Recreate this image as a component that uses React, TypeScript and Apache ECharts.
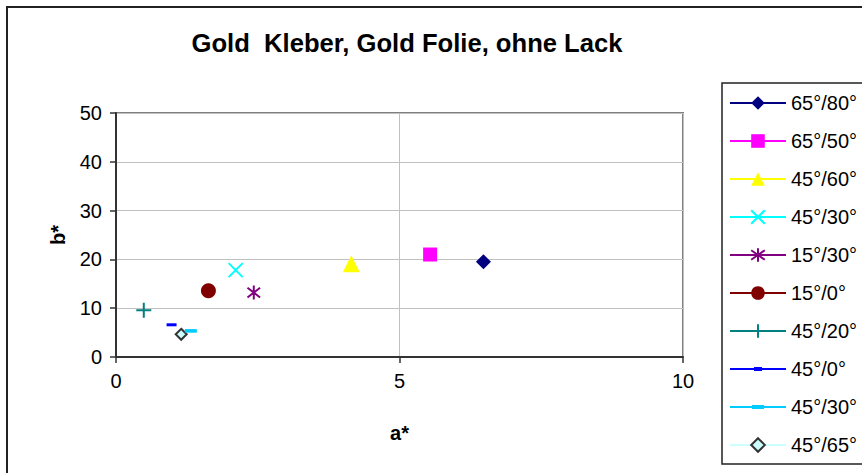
import React, { useEffect, useRef } from "react";
import * as echarts from "echarts";

const titleText = "Gold  Kleber, Gold Folie, ohne Lack";
const seriesNames = ["65°/80°", "65°/50°", "45°/60°", "45°/30°", "15°/30°", "15°/0°", "45°/20°", "45°/0°", "45°/30° ", "45°/65°"];
const aValues = [6.48, 5.54, 4.15, 2.11, 2.43, 1.63, 0.49, 0.98, 1.32, 1.15];
const bValues = [19.5, 21.0, 19.1, 17.8, 13.2, 13.6, 9.6, 6.6, 5.35, 4.65];
const colors = ["#000080", "#FF00FF", "#FFFF00", "#00FFFF", "#800080", "#800000", "#008080", "#0000FF", "#00CCFF", "#CCFFFF"];
const xTicks = [0, 10, 5];
const yTicks = [0, 50, 10];

const X_PATH = "path://M0,0L10,10M10,0L0,10";
const PLUS_PATH = "path://M5,0L5,10M0,5L10,5";
const STAR_PATH = "path://M5,0L5,10M0.5,1.5L9.5,8.5M9.5,1.5L0.5,8.5";
const DASH_PATH = "path://M0,0L10,0L10,3L0,3Z";
const LEGEND_DASH_SMALL = "path://M0,1L56,1L56,3L0,3Z M24,0L32,0L32,4L24,4Z";
const LEGEND_DASH_WIDE = "path://M0,1L56,1L56,3L0,3Z M22,0L34,0L34,4L22,4Z";

const symbols: any[] = ["diamond", "rect", "triangle", X_PATH, STAR_PATH, "circle", PLUS_PATH, DASH_PATH, DASH_PATH, "diamond"];
const symbolSizes: any[] = [15, 14, 17, 14, 14, 15, 15, 10, 12, 11];

export default function App() {
  const ref = useRef<HTMLDivElement>(null);
  useEffect(() => {
    if (!ref.current) return;
    const chart = echarts.init(ref.current, undefined, { renderer: "svg" });
    const series = seriesNames.map((name, i) => {
      const stroked = i === 3 || i === 4 || i === 6;
      const isLast = i === 9;
      return {
        name,
        type: "line",
        data: [[aValues[i], bValues[i]]],
        symbol: symbols[i],
        symbolSize: symbolSizes[i],
        symbolKeepAspect: true,
        showSymbol: true,
        lineStyle: { color: colors[i], width: 2 },
        itemStyle: {
          color: colors[i],
          borderColor: isLast ? "#333333" : colors[i],
          borderWidth: isLast ? 2 : stroked ? 2 : 0,
        },
        z: 10 - i,
      };
    });
    const legendData = seriesNames.map((name, i) => {
      if (i === 7) return { name, icon: LEGEND_DASH_SMALL };
      if (i === 8) return { name, icon: LEGEND_DASH_WIDE };
      return { name };
    });
    chart.setOption({
      animation: false,
      backgroundColor: "#ffffff",
      title: {
        text: titleText,
        left: 402,
        textAlign: "center",
        top: 25,
        textStyle: { fontFamily: "Arial, Liberation Sans", fontSize: 25.6, fontWeight: "bold", color: "#000" },
      },
      grid: {
        left: 116,
        top: 113,
        right: 862 - 683,
        bottom: 473 - 357,
        show: true,
        borderColor: "#808080",
        borderWidth: 2,
        backgroundColor: "transparent",
      },
      legend: {
        orient: "vertical",
        left: 729,
        top: 93,
        padding: 0,
        itemWidth: 56,
        itemHeight: 17,
        itemGap: 18,
        selectedMode: false,
        symbolKeepAspect: true,
        formatter: (n: string) => n.trim(),
        textStyle: { fontFamily: "Arial, Liberation Sans", fontSize: 20, color: "#000" },
        data: legendData,
      },
      xAxis: {
        type: "value",
        min: xTicks[0],
        max: xTicks[1],
        interval: xTicks[2],
        name: "a*",
        nameLocation: "middle",
        nameGap: 66,
        nameTextStyle: { fontFamily: "Arial, Liberation Sans", fontSize: 20, fontWeight: "bold", color: "#000" },
        axisLine: { show: true, lineStyle: { color: "#333", width: 2 } },
        axisTick: { show: true, length: 6, lineStyle: { color: "#333", width: 1.5 } },
        axisLabel: { margin: 14, fontFamily: "Arial, Liberation Sans", fontSize: 20, color: "#000" },
        splitLine: { show: true, lineStyle: { color: "#C0C0C0", width: 1 } },
      },
      yAxis: {
        type: "value",
        min: yTicks[0],
        max: yTicks[1],
        interval: yTicks[2],
        name: "b*",
        nameLocation: "middle",
        nameGap: 48,
        nameRotate: 90,
        nameTextStyle: { fontFamily: "Arial, Liberation Sans", fontSize: 20, fontWeight: "bold", color: "#000" },
        axisLine: { show: true, lineStyle: { color: "#333", width: 2 } },
        axisTick: { show: true, length: 6, lineStyle: { color: "#333", width: 1.5 } },
        axisLabel: { margin: 14, fontFamily: "Arial, Liberation Sans", fontSize: 20, color: "#000" },
        splitLine: { show: true, lineStyle: { color: "#C0C0C0", width: 1 } },
      },
      graphic: [
        {
          type: "rect",
          shape: { x: 7, y: 7, width: 900, height: 500 },
          style: { fill: "none", stroke: "#222", lineWidth: 2 },
          z: -1,
          silent: true,
        },
        {
          type: "rect",
          shape: { x: 722, y: 83, width: 200, height: 381 },
          style: { fill: "none", stroke: "#222", lineWidth: 1.5 },
          silent: true,
        },
      ],
      series,
    });
    return () => chart.dispose();
  }, []);
  return <div ref={ref} style={{ position: "fixed", left: 0, top: 0, width: 862, height: 473 }} />;
}
